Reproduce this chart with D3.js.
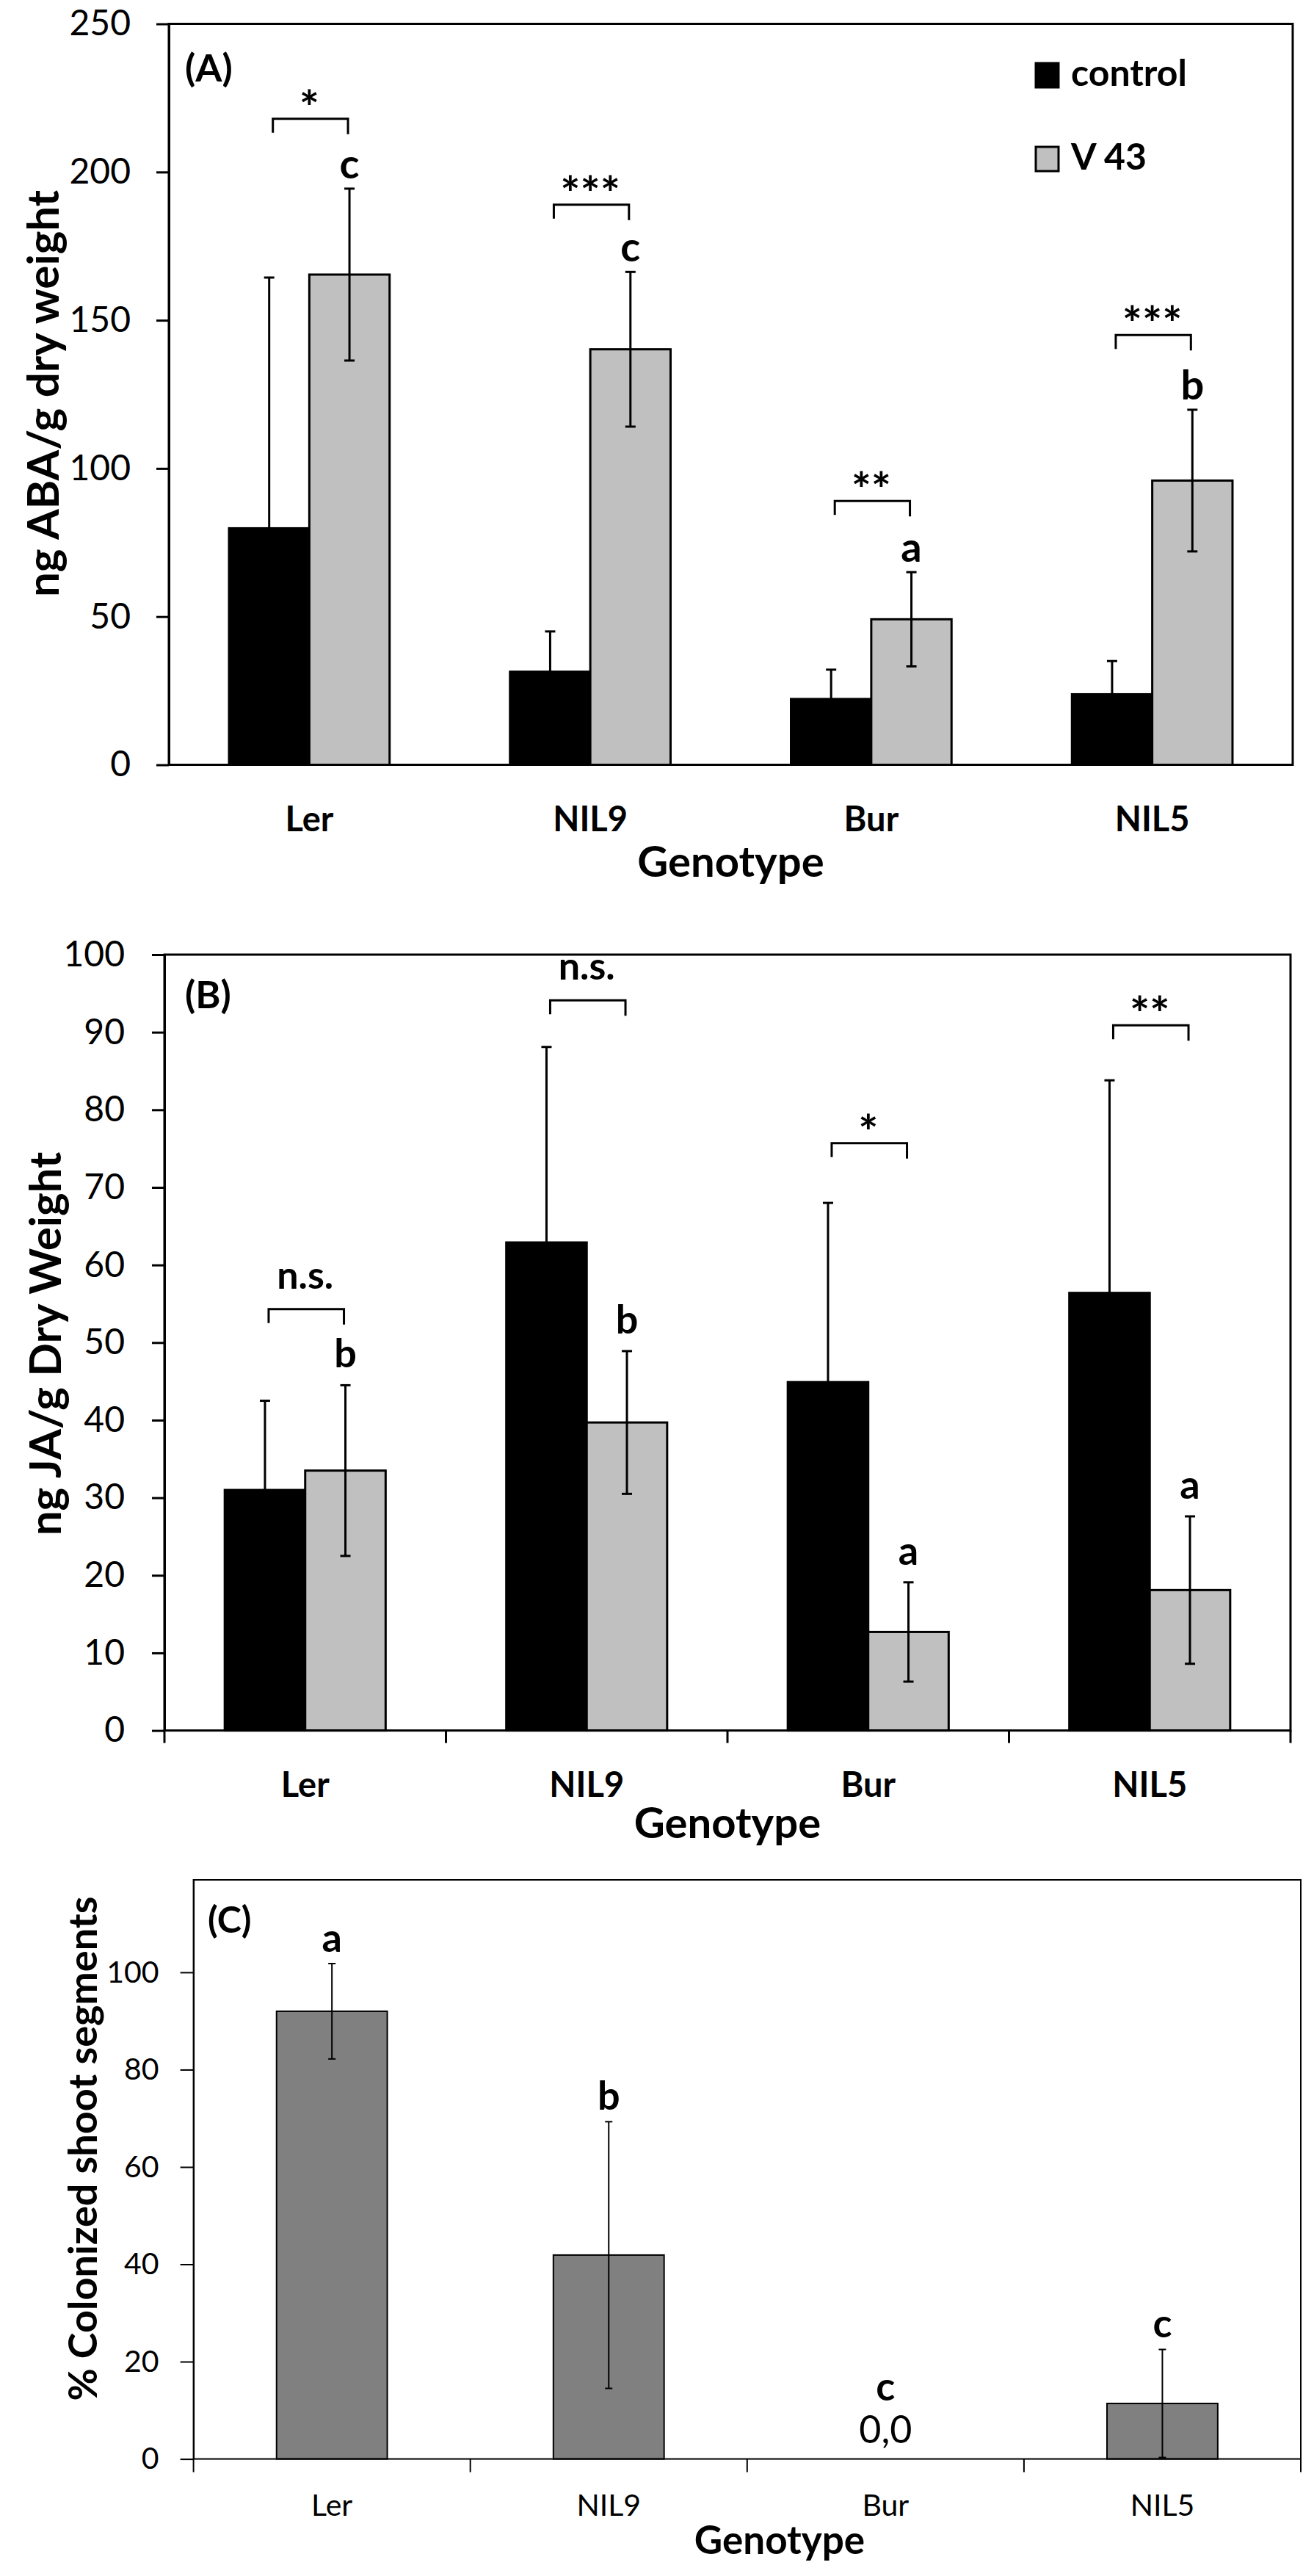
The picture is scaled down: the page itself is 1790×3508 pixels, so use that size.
<!DOCTYPE html>
<html>
<head>
<meta charset="utf-8">
<script src="https://cdn.jsdelivr.net/npm/d3@7"></script>
<style>
  body { margin: 0; background: #fff; }
  svg { display: block; font-family: Lato, sans-serif; }
  .bold { font-weight: bold; }
</style>
</head>
<body>
<script>
const GENOTYPES = ['Ler', 'NIL9', 'Bur', 'NIL5'];
const TREATMENTS = ['control', 'V 43'];

// (A) ABA, ng/g dry weight
const ABA_CONTROL = [79.8, 31.4, 22.2, 23.8];
const ABA_CONTROL_ERR = [84.6, 13.6, 9.9, 11.2];
const ABA_V43 = [165.4, 140.2, 49.1, 95.9];
const ABA_V43_ERR = [29.0, 26.1, 15.9, 23.9];
const ABA_LETTERS = ['c', 'c', 'a', 'b'];
const ABA_SIG = ['*', '***', '**', '***'];
const ABA_BRACKET = [218, 189, 89, 145];
const ABA_TICKS = [0, 50, 100, 150, 200, 250];

// (B) JA, ng/g dry weight
const JA_CONTROL = [31.0, 62.9, 44.9, 56.4];
const JA_CONTROL_ERR = [11.5, 25.2, 23.1, 27.4];
const JA_V43 = [33.5, 39.7, 12.7, 18.1];
const JA_V43_ERR = [11.0, 9.2, 6.4, 9.5];
const JA_LETTERS = ['b', 'b', 'a', 'a'];
const JA_SIG = ['n.s.', 'n.s.', '*', '**'];
const JA_BRACKET = [54.3, 94.1, 75.7, 90.9];
const JA_TICKS = [0, 10, 20, 30, 40, 50, 60, 70, 80, 90, 100];

// (C) colonized shoot segments, %
const COLONIZED = [92.0, 41.9, 0, 11.4];
const COLONIZED_ERR = [9.8, 27.4, 0, 11.1];
const COLONIZED_LETTERS = ['a', 'b', 'c', 'c'];
const COLONIZED_TICKS = [0, 20, 40, 60, 80, 100];

const W = 1790, H = 3508;
const fmtComma = d3.formatLocale({ decimal: ',', thousands: '.', grouping: [3], currency: ['', ''] }).format('.1f');

const svg = d3.select('body').append('svg')
  .attr('width', W)
  .attr('height', H)
  .attr('viewBox', [0, 0, W, H]);

svg.append('rect').attr('width', W).attr('height', H).attr('fill', '#fff');

const panel = p => {
  const x = d3.scaleBand().domain(GENOTYPES).range([p.left, p.right]);
  const xs = d3.scaleBand().domain(p.series).range([0, x.bandwidth()]).paddingOuter(0.75);
  const y = d3.scaleLinear().domain([0, p.max]).range([p.bottom, p.top]).clamp(true);
  const g = svg.append('g').attr('id', 'panel-' + p.id);
  const cx = (gt, s) => x(gt) + xs(s) + xs.bandwidth() / 2;

  const rows = [];
  p.series.forEach((s, j) => GENOTYPES.forEach((gt, i) =>
    rows.push({ gt, s, i, j, v: p.values[j][i], e: p.errors[j][i] })));

  // Bars
  g.append('g')
    .selectAll('rect')
    .data(rows.filter(d => d.v > 0))
    .join('rect')
    .attr('x', d => x(d.gt) + xs(d.s))
    .attr('y', d => y(d.v))
    .attr('width', xs.bandwidth())
    .attr('height', d => y(0) - y(d.v))
    .attr('fill', d => p.fills[d.j])
    .attr('stroke', '#000')
    .attr('stroke-width', p.lw);

  // Error bars
  const err = g.append('g')
    .attr('stroke', '#000')
    .attr('stroke-width', p.lw)
    .selectAll('g')
    .data(rows.filter(d => d.e > 0))
    .join('g');
  err.append('line')
    .attr('x1', d => cx(d.gt, d.s)).attr('x2', d => cx(d.gt, d.s))
    .attr('y1', d => y(d.v - d.e)).attr('y2', d => y(d.v + d.e));
  [-1, 1].forEach(sign => {
    err.append('line')
      .attr('x1', d => cx(d.gt, d.s) - p.cap / 2)
      .attr('x2', d => cx(d.gt, d.s) + p.cap / 2)
      .attr('y1', d => y(d.v + sign * d.e))
      .attr('y2', d => y(d.v + sign * d.e));
  });

  // Plot frame
  g.append('rect')
    .attr('x', p.left).attr('y', p.top)
    .attr('width', p.right - p.left).attr('height', p.bottom - p.top)
    .attr('fill', 'none').attr('stroke', '#000').attr('stroke-width', p.lw);

  // Y axis
  const ya = g.append('g')
    .attr('transform', `translate(${p.left},0)`)
    .call(d3.axisLeft(y).tickValues(p.ticks).tickFormat(d3.format('d'))
      .tickSize(p.tickLen).tickSizeOuter(0).tickPadding(p.tickPad));
  ya.attr('font-family', null).attr('font-size', p.tickFont);
  ya.select('.domain').attr('stroke-width', p.lw);
  ya.selectAll('.tick line').attr('stroke-width', p.lw);

  // X axis labels
  const xa = g.append('g')
    .attr('transform', `translate(0,${p.bottom})`)
    .call(d3.axisBottom(x).tickSize(0));
  xa.select('.domain').remove();
  xa.attr('font-family', null).attr('font-size', p.catFont)
    .attr('font-weight', p.catBold ? 'bold' : 'normal');
  xa.selectAll('text').attr('dy', null).attr('y', p.catY);

  // Category boundary ticks
  if (p.boundaryTicks) {
    g.append('g')
      .selectAll('line')
      .data(GENOTYPES.map(gt => x(gt)).concat(p.right))
      .join('line')
      .attr('x1', d => d).attr('x2', d => d)
      .attr('y1', p.bottom).attr('y2', p.bottom + p.tickLen)
      .attr('stroke', '#000').attr('stroke-width', p.lw);
  }

  // Axis titles
  g.append('text')
    .attr('class', 'bold')
    .attr('x', p.xTitleX ?? (p.left + p.right) / 2)
    .attr('y', p.bottom + p.xTitleY)
    .attr('text-anchor', 'middle')
    .attr('font-size', p.xTitleFont)
    .text('Genotype');

  g.append('text')
    .attr('class', 'bold')
    .attr('transform', `translate(${p.yTitleX},${p.yTitleMid}) rotate(-90)`)
    .attr('text-anchor', 'middle')
    .attr('font-size', p.yTitleFont)
    .text(p.yTitle);

  // Panel tag
  g.append('text')
    .attr('class', 'bold')
    .attr('x', p.tagX).attr('y', p.tagY)
    .attr('font-size', p.tagFont)
    .text(p.tag);

  // Letters over the last series
  const last = p.series.length - 1;
  g.append('g')
    .selectAll('text')
    .data(rows.filter(d => d.j === last))
    .join('text')
    .attr('class', 'bold')
    .attr('x', d => cx(d.gt, d.s))
    .attr('y', d => d.v === 0 ? y(0) - p.zeroLetter : y(d.v + d.e) - p.letterGap)
    .attr('text-anchor', 'middle')
    .attr('font-size', p.letterFont)
    .text(d => p.letters[d.i]);

  // Zero data labels
  g.append('g')
    .selectAll('text')
    .data(rows.filter(d => d.v === 0))
    .join('text')
    .attr('x', d => cx(d.gt, d.s))
    .attr('y', y(0) - 22)
    .attr('text-anchor', 'middle')
    .attr('font-size', 52)
    .text(d => fmtComma(d.v));

  // Significance brackets
  if (p.brackets) {
    const br = g.append('g')
      .selectAll('g')
      .data(GENOTYPES)
      .join('g');
    br.append('path')
      .attr('d', (gt, i) => {
        const x1 = cx(gt, p.series[0]) + 5, x2 = cx(gt, p.series[1]) - 2, yb = y(p.brackets[i]);
        return `M${x1},${yb + 19}V${yb}H${x2}V${yb + 21}`;
      })
      .attr('fill', 'none').attr('stroke', '#000').attr('stroke-width', p.lw);
    br.append('text')
      .attr('class', 'bold')
      .attr('x', gt => (cx(gt, p.series[0]) + cx(gt, p.series[1])) / 2)
      .attr('y', (gt, i) => y(p.brackets[i]) + (p.sig[i].includes('*') ? 8 : -28))
      .attr('text-anchor', 'middle')
      .attr('font-size', (gt, i) => p.sig[i].includes('*') ? 64 : 52)
      .text((gt, i) => p.sig[i]);
  }

  return { g, x, y };
};

const grouped = {
  series: TREATMENTS, fills: ['#000000', '#c0c0c0'], lw: 3, cap: 14,
  tickLen: 17, tickFont: 48, catFont: 47, catBold: true,
  xTitleFont: 58, yTitleFont: 60, tagFont: 52, letterFont: 56, zeroLetter: 80
};

const a = panel({
  ...grouped, id: 'a', tag: '(A)', tagX: 252, tagY: 111,
  left: 230, right: 1761, top: 32.5, bottom: 1041.5, max: 250, ticks: ABA_TICKS, tickPad: 35,
  values: [ABA_CONTROL, ABA_V43], errors: [ABA_CONTROL_ERR, ABA_V43_ERR],
  letters: ABA_LETTERS, letterGap: 14, sig: ABA_SIG, brackets: ABA_BRACKET,
  catY: 90, xTitleY: 152, boundaryTicks: false,
  yTitle: 'ng ABA/g dry weight', yTitleX: 80, yTitleMid: 536
});

panel({
  ...grouped, id: 'b', tag: '(B)', tagX: 252, tagY: 1373,
  left: 224, right: 1758, top: 1300, bottom: 2356.6, max: 100, ticks: JA_TICKS, tickPad: 37,
  values: [JA_CONTROL, JA_V43], errors: [JA_CONTROL_ERR, JA_V43_ERR],
  letters: JA_LETTERS, letterGap: 24, letterFont: 54, sig: JA_SIG, brackets: JA_BRACKET,
  catY: 90, xTitleY: 146, boundaryTicks: true,
  yTitle: 'ng JA/g Dry Weight', yTitleX: 83, yTitleMid: 1830
});

panel({
  id: 'c', tag: '(C)', tagX: 283, tagY: 2632, tagFont: 50,
  series: ['colonized'], fills: ['#808080'], lw: 2, cap: 10,
  left: 263.6, right: 1772, top: 2560, bottom: 3348.6, max: 119, ticks: COLONIZED_TICKS,
  tickLen: 18, tickPad: 29, tickFont: 41, catFont: 41, catBold: false,
  values: [COLONIZED], errors: [COLONIZED_ERR],
  letters: COLONIZED_LETTERS, letterGap: 16, letterFont: 54, zeroLetter: 80,
  catY: 77, xTitleY: 129, xTitleX: 1062, xTitleFont: 53, boundaryTicks: true,
  yTitle: '% Colonized shoot segments', yTitleX: 132, yTitleMid: 2926, yTitleFont: 54
});

// Legend (panel A)
const legend = a.g.append('g')
  .selectAll('g')
  .data(TREATMENTS)
  .join('g')
  .attr('transform', (d, i) => `translate(1411,${86 + i * 114})`);
legend.append('rect')
  .attr('width', 31).attr('height', 33)
  .attr('fill', (d, i) => grouped.fills[i])
  .attr('stroke', '#000').attr('stroke-width', 3);
legend.append('text')
  .attr('class', 'bold')
  .attr('x', 48).attr('y', 31)
  .attr('font-size', 50)
  .text(d => d);
</script>
</body>
</html>
